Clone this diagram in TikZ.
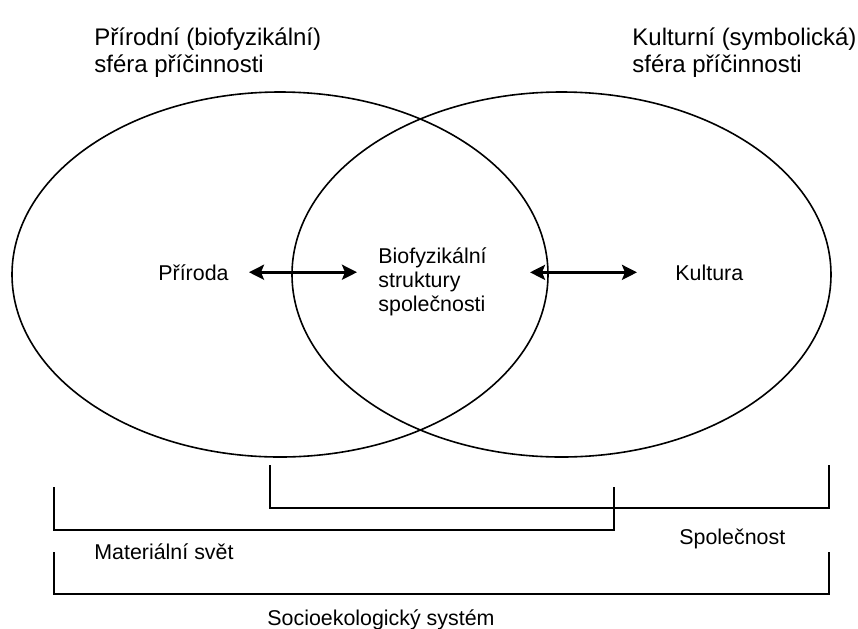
\documentclass[tikz,border=0pt]{standalone}
\usepackage{fontspec}
\setmainfont{Liberation Sans}
\usetikzlibrary{arrows.meta}

\begin{document}
\begin{tikzpicture}[x=0.5pt,y=-0.5pt,
    every node/.style={inner sep=0pt,anchor=base west,font=\fontsize{10.7}{12}\selectfont},
    head/.style={font=\fontsize{12}{13.5}\selectfont,align=left},
    link/.style={{Stealth[length=7.5pt,width=7.5pt,inset=1.5pt]}-{Stealth[length=7.5pt,width=7.5pt,inset=1.5pt]},line width=1.4pt},
    brace/.style={line width=0.6pt}]
    \useasboundingbox (0,0) rectangle (858,628);
    \draw[line width=0.8pt] (280,274.5) ellipse [x radius=268,y radius=182.5];
    \draw[line width=0.8pt] (561.5,274.5) ellipse [x radius=269.5,y radius=182.5];
    \node[head] (natsph) at (94,72) {Přírodní (biofyzikální)\\sféra příčinnosti};
    \node[head] (kulsph) at (632,72) {Kulturní (symbolická)\\sféra příčinnosti};
    \node (priroda) at (158,280) {Příroda};
    \node[align=left] (bio) at (378,311) {Biofyzikální\\struktury\\společnosti};
    \node (kultura) at (675,280) {Kultura};
    \draw[link,shorten <=10pt,shorten >=10.5pt] (priroda.east) -- (priroda.east -| bio.west);
    \draw[link,shorten <=21.5pt,shorten >=19pt] (kultura.west -| bio.east) -- (kultura.west);
    \coordinate (spolA) at (270,465);
    \coordinate (spolB) at (829,465);
    \coordinate (matA) at (54,487);
    \coordinate (matB) at (614,487);
    \coordinate (sysA) at (54,552);
    \coordinate (sysB) at (829,552);
    \draw[brace] (spolA) -- ++(0,43) -| (spolB);
    \draw[brace] (matA) -- ++(0,43) -| (matB);
    \draw[brace] (sysA) -- ++(0,42) -| (sysB);
    \node (spolecnost) at (679,544) {Společnost};
    \node (material) at (94,559) {Materiální svět};
    \node (system) at (267,625) {Socioekologický systém};
\end{tikzpicture}
\end{document}
